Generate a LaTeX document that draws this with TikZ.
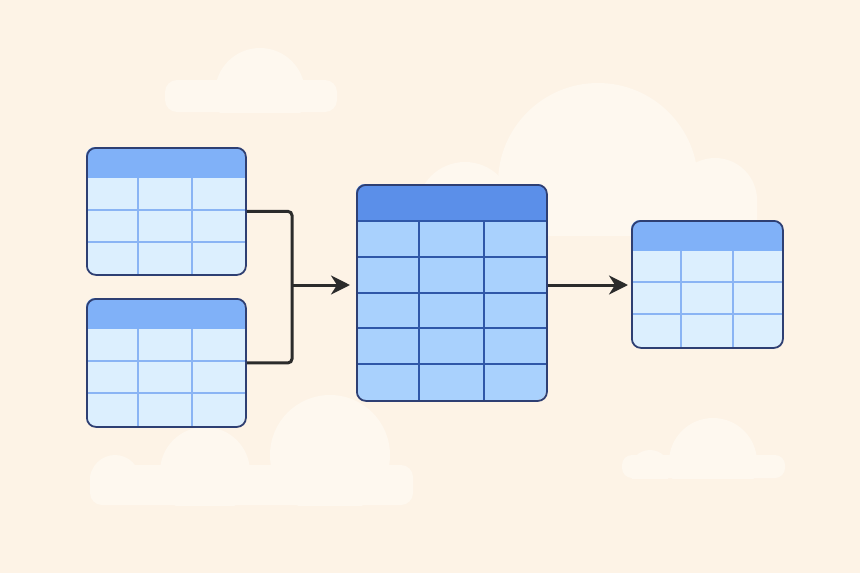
\documentclass[tikz,border=0pt]{standalone}
\usepackage{xcolor}
\usepackage{tikz}
\usetikzlibrary{arrows.meta, positioning}

\definecolor{paper}{HTML}{FDF3E6}
\definecolor{cloudfill}{HTML}{FEF8EF}
\definecolor{navy}{HTML}{2E3F73}
\definecolor{hdrlight}{HTML}{80B1F8}
\definecolor{celllight}{HTML}{DCEFFE}
\definecolor{gridlight}{HTML}{8AB4F4}
\definecolor{hdrmid}{HTML}{5B8FE9}
\definecolor{cellmid}{HTML}{A9D1FD}
\definecolor{gridmid}{HTML}{2F57A8}
\definecolor{ink}{HTML}{2B2B2B}

\begin{document}
\begin{tikzpicture}[
      x=1pt, y=-1pt,
      cloud/.style={fill=cloudfill},
      tblframe/.style={draw=navy, line width=1.8pt, rounded corners=9pt, inner sep=0pt, anchor=north west},
      gridsoft/.style={draw=gridlight, line width=2.5pt},
      gridhard/.style={draw=gridmid, line width=2pt},
      link/.style={draw=ink, line width=3pt, rounded corners=4pt},
      flow/.style={link, -{Stealth[length=19pt, width=19pt, inset=6pt]}}
  ]
      % background and frame
      \fill[paper] (0,0) rectangle (860,573);
      \useasboundingbox (0,0) rectangle (860,573);

      % clouds (Top Left)
      \begin{scope}
          \clip (0,0) rectangle (860,112);
          \fill[cloud, rounded corners=12pt] (165,80) rectangle (337,112);
          \fill[cloud] (260,93) circle (45);
      \end{scope}
      % clouds (Middle)
      \begin{scope}
          \clip (0,0) rectangle (860,235);
          \fill[cloud] (598,183) circle (100);
          \fill[cloud] (465,210) circle (48);
          \fill[cloud] (715,200) circle (42);
          \fill[cloud, rounded corners=12pt] (417,185) rectangle (757,235);
      \end{scope}
      % clouds (Bottom Left)
      \begin{scope}
          \clip (0,0) rectangle (860,505);
          \fill[cloud, rounded corners=12pt] (90,465) rectangle (413,505);
          \fill[cloud] (115,480) circle (25);
          \fill[cloud] (205,472) circle (45);
          \fill[cloud] (330,455) circle (60);
      \end{scope}
      % clouds (Bottom Right)
      \begin{scope}
          \clip (0,0) rectangle (860,478);
          \fill[cloud, rounded corners=10pt] (622,455) rectangle (785,478);
          \fill[cloud] (650,470) circle (20);
          \fill[cloud] (713,462) circle (44);
      \end{scope}

      % Source table (Top Left)
      \begin{scope}[shift={(86,147)}]
          \begin{scope}
              \clip[rounded corners=9pt] (0,0) rectangle (159,127);
              \fill[celllight] (0,0) rectangle (159,127);
              \fill[hdrlight] (0,0) rectangle (159,31);
              \foreach \y in {63,95} \draw[gridsoft] (0,\y) -- (159,\y);
              \foreach \x in {52,106} \draw[gridsoft] (\x,31) -- (\x,127);
          \end{scope}
          \node[tblframe, minimum width=159pt, minimum height=127pt] (src1) at (0,0) {};
      \end{scope}

      % Source table (Bottom Left)
      \begin{scope}[shift={(86,298)}]
          \begin{scope}
              \clip[rounded corners=9pt] (0,0) rectangle (159,128);
              \fill[celllight] (0,0) rectangle (159,128);
              \fill[hdrlight] (0,0) rectangle (159,31);
              \foreach \y in {63,95} \draw[gridsoft] (0,\y) -- (159,\y);
              \foreach \x in {52,106} \draw[gridsoft] (\x,31) -- (\x,128);
          \end{scope}
          \node[tblframe, minimum width=159pt, minimum height=128pt] (src2) at (0,0) {};
      \end{scope}

      % Merged table (Middle)
      \begin{scope}[shift={(356,184)}]
          \begin{scope}
              \clip[rounded corners=9pt] (0,0) rectangle (190,216);
              \fill[cellmid] (0,0) rectangle (190,216);
              \fill[hdrmid] (0,0) rectangle (190,37);
              \foreach \y in {37,73,109,144,180} \draw[gridhard] (0,\y) -- (190,\y);
              \foreach \x in {63,128} \draw[gridhard] (\x,37) -- (\x,216);
          \end{scope}
          \node[tblframe, minimum width=190pt, minimum height=216pt] (merged) at (0,0) {};
      \end{scope}

      % Result table (Right)
      \begin{scope}[shift={(631,220)}]
          \begin{scope}
              \clip[rounded corners=9pt] (0,0) rectangle (151,127);
              \fill[celllight] (0,0) rectangle (151,127);
              \fill[hdrlight] (0,0) rectangle (151,31);
              \foreach \y in {62,94} \draw[gridsoft] (0,\y) -- (151,\y);
              \foreach \x in {50,102} \draw[gridsoft] (\x,31) -- (\x,127);
          \end{scope}
          \node[tblframe, minimum width=151pt, minimum height=127pt] (target) at (0,0) {};
      \end{scope}

      % connectors
      \coordinate (hub) at (292,285);
      \draw[link] (src1.east) -| (hub) |- (src2.east);
      \draw[flow, shorten >=6pt] (hub) -- (hub -| merged.west);
      \draw[flow, shorten >=3pt] (hub -| merged.east) -- (hub -| target.west);
  \end{tikzpicture}
\end{document}
